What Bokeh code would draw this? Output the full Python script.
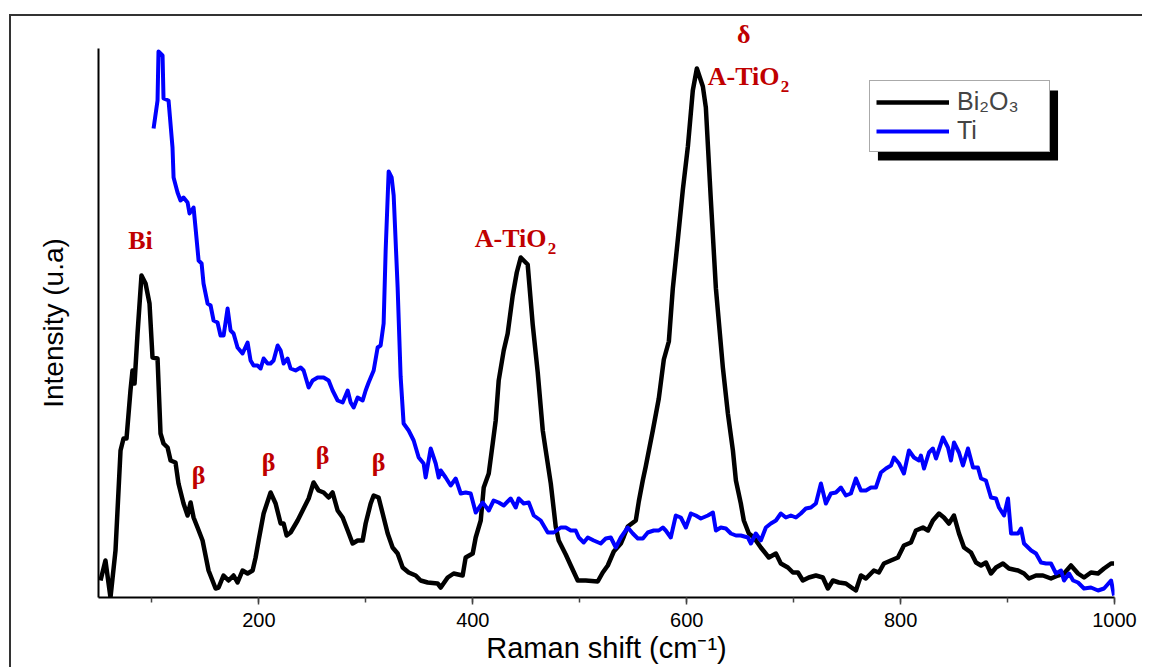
from bokeh.plotting import figure
from bokeh.models import (Legend, LegendItem, Label, BoxAnnotation, LinearAxis,
                          SingleIntervalTicker, FixedTicker, Range1d)
from bokeh.embed import file_html
from bokeh.resources import INLINE

# ---------------- data (Raman shift in cm^-1, intensity in a.u.) ----------------
bi2o3_x = [51.9, 56.5, 61.2, 65.9, 70.6, 73.4, 76.2, 79.9, 81.8, 83.7, 86.5, 90.2, 94.0, 97.7,
           100.5, 105.2, 108.0, 110.8, 114.6, 117.4, 122.0, 124.8, 129.5, 133.3, 136.1, 138.9,
           142.6, 147.3, 152.9, 159.5, 162.3, 166.9, 171.6, 176.3, 180.0, 184.7, 189.4, 194.1,
           196.9, 199.7, 204.4, 210.9, 215.6, 220.3, 223.1, 225.9, 229.6, 236.2, 241.8, 246.5,
           251.1, 255.8, 260.5, 265.2, 268.9, 273.6, 278.3, 283.0, 287.6, 292.3, 297.0, 299.8,
           304.5, 307.3, 311.9, 315.7, 320.4, 325.0, 329.7, 334.4, 340.0, 346.6, 351.2, 357.8,
           367.1, 370.0, 376.5, 382.1, 390.5, 393.3, 399.9, 402.7, 407.4, 410.2, 414.9, 418.6,
           421.4, 424.2, 428.9, 432.6, 437.3, 441.1, 444.8, 448.5, 451.3, 456.0, 460.7, 465.4,
           468.2, 472.9, 477.5, 480.3, 486.9, 491.6, 498.1, 505.6, 516.8, 521.5, 526.2, 531.8,
           538.4, 541.2, 544.9, 552.4, 555.2, 558.9, 561.7, 568.3, 573.9, 578.6, 583.3, 587.0,
           591.7, 596.4, 601.1, 605.7, 609.5, 615.1, 617.9, 622.6, 627.3, 633.8, 638.5, 643.2,
           646.0, 650.6, 653.4, 658.1, 662.8, 669.3, 676.8, 683.4, 688.0, 694.6, 699.3, 704.0,
           708.6, 714.2, 720.8, 727.3, 732.0, 736.7, 742.3, 748.8, 755.4, 758.2, 762.9, 767.6,
           775.0, 779.7, 784.4, 790.9, 797.5, 803.1, 809.7, 814.3, 820.9, 825.6, 830.2, 835.9,
           840.5, 845.2, 849.9, 854.6, 859.3, 865.8, 870.5, 875.2, 879.8, 884.5, 889.2, 895.7,
           901.3, 909.8, 915.4, 920.0, 926.6, 933.1, 940.6, 947.2, 952.8, 959.3, 965.9, 971.5,
           978.0, 984.6, 990.2, 996.8, 999.6]
bi2o3_y = [17, 37, 0, 47, 147, 159, 159, 207, 227, 214, 264, 322, 314, 294,
           240, 239, 164, 154, 150, 137, 135, 114, 94, 82, 95, 80,
           70, 57, 27, 9, 10, 22, 17, 22, 15, 27, 24, 27,
           40, 57, 84, 105, 94, 74, 74, 62, 65, 77, 89, 99,
           115, 107, 105, 100, 105, 87, 80, 67, 54, 57, 57, 74,
           94, 102, 100, 84, 64, 50, 44, 30, 25, 22, 17, 15,
           14, 10, 20, 24, 22, 40, 44, 60, 77, 110, 124, 154,
           177, 217, 247, 264, 302, 325, 340, 336, 333, 273, 225, 167,
           147, 114, 71, 57, 43, 32, 17, 17, 16, 25, 32, 46,
           54, 61, 71, 77, 96, 117, 131, 167, 199, 238, 256, 309,
           358, 408, 451, 507, 529, 511, 490, 397, 309, 230, 184, 147,
           117, 94, 77, 64, 60, 50, 40, 44, 34, 30, 25, 25,
           17, 20, 22, 20, 9, 17, 15, 14, 9, 7, 22, 19,
           27, 25, 34, 37, 40, 52, 55, 67, 70, 67, 77, 84,
           80, 74, 82, 64, 50, 45, 35, 32, 35, 24, 30, 34,
           29, 27, 24, 19, 22, 22, 19, 22, 24, 32, 24, 20,
           25, 24, 29, 34, 34]

ti_x = [101.5, 105.2, 106.1, 109.9, 110.8, 115.5, 119.2, 120.2, 123.9, 126.7, 129.5, 133.3,
        135.1, 138.9, 140.7, 143.6, 146.4, 148.2, 152.0, 154.8, 157.6, 161.3, 164.1, 167.0,
        170.7, 173.5, 176.3, 180.0, 184.7, 189.4, 192.2, 195.0, 198.7, 201.6, 204.4, 208.1,
        210.9, 213.7, 217.5, 220.3, 223.1, 226.8, 229.6, 234.3, 239.0, 241.8, 246.5, 250.2,
        254.9, 260.5, 265.2, 268.9, 273.6, 278.3, 283.0, 285.8, 288.6, 292.3, 297.0, 299.8,
        302.6, 307.3, 311.0, 313.8, 316.6, 318.5, 321.3, 324.1, 326.0, 329.7, 332.5, 335.3,
        340.0, 344.7, 349.4, 354.0, 355.9, 360.6, 365.3, 368.1, 370.0, 374.6, 379.3, 384.0,
        388.7, 393.3, 398.0, 402.7, 409.2, 414.9, 419.5, 424.2, 428.9, 435.4, 440.1, 442.9,
        447.6, 452.3, 457.0, 463.5, 470.1, 475.7, 482.2, 486.9, 491.6, 496.2, 499.1, 503.7,
        507.5, 513.1, 519.6, 524.3, 529.0, 533.7, 538.4, 544.9, 549.6, 554.3, 559.0, 563.6,
        569.2, 573.9, 577.7, 580.4, 585.1, 589.8, 594.5, 599.2, 603.9, 608.5, 613.2, 619.8,
        624.5, 627.3, 631.9, 636.6, 641.3, 646.0, 650.6, 657.2, 660.0, 664.6, 669.3, 674.0,
        678.7, 683.4, 688.0, 692.7, 697.4, 702.1, 706.7, 711.4, 716.1, 720.8, 725.5, 730.1,
        734.8, 739.5, 744.2, 748.8, 753.5, 758.2, 762.9, 767.6, 772.3, 776.9, 781.6, 786.3,
        791.0, 793.8, 798.5, 803.1, 807.8, 812.5, 817.2, 819.0, 821.9, 826.5, 830.2, 833.1,
        839.6, 844.3, 847.1, 849.9, 854.6, 858.3, 863.0, 867.7, 872.3, 875.2, 879.8, 884.5,
        889.2, 892.0, 896.7, 900.4, 903.3, 909.8, 912.6, 915.4, 922.1, 926.6, 931.3, 936.0,
        940.6, 945.3, 950.0, 952.8, 957.5, 961.3, 965.9, 971.5, 978.0, 984.6, 990.2, 996.8,
        999.6]
ti_y = [469, 497, 546, 542, 499, 497, 450, 420, 405, 397, 400, 395,
        384, 390, 370, 337, 334, 314, 294, 292, 277, 275, 262, 262,
        289, 267, 264, 250, 244, 255, 237, 232, 232, 229, 239, 234,
        234, 237, 252, 247, 234, 239, 229, 227, 230, 227, 210, 217,
        220, 220, 217, 207, 197, 195, 207, 195, 190, 200, 197, 207,
        215, 227, 250, 252, 274, 347, 426, 420, 402, 310, 221, 174,
        167, 157, 140, 134, 120, 149, 134, 120, 127, 120, 112, 119,
        104, 105, 104, 85, 95, 87, 97, 95, 92, 99, 90, 99,
        94, 95, 82, 77, 65, 65, 70, 70, 67, 67, 60, 55,
        60, 57, 54, 59, 60, 50, 60, 70, 64, 59, 59, 65,
        67, 67, 70, 67, 60, 82, 80, 70, 84, 82, 79, 82,
        85, 67, 70, 69, 64, 62, 62, 60, 54, 64, 57, 70,
        74, 77, 84, 80, 82, 80, 84, 89, 90, 94, 114, 94,
        104, 105, 110, 102, 104, 119, 107, 107, 110, 110, 125, 129,
        132, 140, 134, 124, 147, 140, 137, 142, 129, 145, 149, 139,
        160, 150, 137, 155, 145, 132, 149, 130, 130, 119, 117, 100,
        99, 90, 82, 99, 64, 64, 69, 54, 47, 44, 35, 34,
        34, 24, 27, 17, 24, 17, 15, 9, 10, 7, 9, 17,
        2]

series_names = ["Bi\u2082O\u2083", "Ti"]
x_ticks_interval = 200

# peak assignment labels (anchor in data coordinates)
beta_text = ["\u03b2", "\u03b2", "\u03b2", "\u03b2"]
beta_x = [143.6, 209.0, 259.6, 312.0]
beta_y = [122, 135, 142, 135]
delta_x = 653.4

RED = "#C00000"
SERIF = "Liberation Serif"
SANS = "Liberation Sans"

p = figure(frame_width=1016, frame_height=549,
           x_range=Range1d(50, 1000), y_range=Range1d(0, 549),
           output_backend="svg", toolbar_location=None,
           min_border_left=87, min_border_right=28, min_border_top=32, min_border_bottom=70)
p.margin = (14, 0, 0, 9)
p.styles = {"border-top": "2px solid #333", "border-left": "2px solid #333"}

p.outline_line_color = None
p.xgrid.visible = False
p.ygrid.visible = False
p.background_fill_color = "white"
p.border_fill_color = "white"

r_bi = p.line(bi2o3_x, bi2o3_y, line_color="black", line_width=4.5, line_join="round")
r_ti = p.line(ti_x, ti_y, line_color="#0000FF", line_width=4, line_join="round")

# x axis
xa = p.xaxis[0]
xa.ticker = SingleIntervalTicker(interval=x_ticks_interval, num_minor_ticks=2)
xa.axis_line_width = 2
xa.axis_line_color = "black"
xa.major_tick_in = 0
xa.major_tick_out = 7
xa.minor_tick_in = 0
xa.minor_tick_out = 5
xa.major_tick_line_width = 1.5
xa.minor_tick_line_width = 1.5
xa.major_tick_line_color = "#444"
xa.minor_tick_line_color = "#444"
xa.major_label_text_font = SANS
xa.major_label_text_font_size = "20px"
xa.major_label_text_color = "black"
xa.major_label_standoff = 8
xa.axis_label = "Raman shift (cm\u207b\u00b9)"
xa.axis_label_text_font = SANS
xa.axis_label_text_font_size = "29px"
xa.axis_label_text_font_style = "normal"
xa.axis_label_text_color = "black"
xa.axis_label_standoff = 2

# y axis
ya = p.yaxis[0]
ya.ticker = FixedTicker(ticks=[])
ya.axis_line_width = 2
ya.axis_line_color = "black"
ya.major_tick_line_color = None
ya.minor_tick_line_color = None
ya.axis_label = "Intensity (u.a)"
ya.axis_label_text_font = SANS
ya.axis_label_text_font_size = "28px"
ya.axis_label_text_font_style = "normal"
ya.axis_label_text_color = "black"
ya.axis_label_standoff = 30

# delta label above the plot area (outside the frame) via a bare top axis
top = LinearAxis(ticker=FixedTicker(ticks=[delta_x]),
                 major_label_overrides={delta_x: "\u03b4"},
                 axis_line_color=None, major_tick_line_color=None, minor_tick_line_color=None,
                 major_tick_in=0, major_tick_out=0, minor_tick_in=0, minor_tick_out=0,
                 major_label_text_color=RED, major_label_text_font=SERIF,
                 major_label_text_font_style="bold", major_label_text_font_size="26px",
                 major_label_standoff=0)
p.add_layout(top, "above")

# legend shadow + legend
shadow = BoxAnnotation(left=778.8, right=947.2, bottom=437, top=507,
                       fill_color="black", fill_alpha=1, line_color=None)
p.add_layout(shadow)
legend = Legend(items=[LegendItem(label=series_names[0], renderers=[r_bi]),
                       LegendItem(label=series_names[1], renderers=[r_ti])],
                location=(771, 445), margin=0, padding=6, spacing=0,
                glyph_width=73, glyph_height=28, label_height=28, label_standoff=8,
                label_width=86,
                label_text_font=SANS, label_text_font_size="25px",
                border_line_color="#555", border_line_width=1.5,
                background_fill_color="white", background_fill_alpha=1)
p.add_layout(legend)

# peak labels
def lab(x, y, text, size="26px", align="center", baseline="middle", x_offset=0):
    p.add_layout(Label(x=x, y=y, text=text, text_color=RED, text_font=SERIF,
                       text_font_style="bold", text_font_size=size,
                       text_align=align, text_baseline=baseline, x_offset=x_offset))

lab(89.3, 357, "Bi")
for t, bx, by in zip(beta_text, beta_x, beta_y):
    lab(bx, by, t)
lab(401.8, 359, "A-TiO", align="left", baseline="alphabetic")
lab(401.8, 349, "2", size="17px", align="left", baseline="alphabetic", x_offset=73)
lab(619.7, 521, "A-TiO", align="left", baseline="alphabetic")
lab(619.7, 511, "2", size="17px", align="left", baseline="alphabetic", x_offset=73)

open("out.html", "w").write(file_html(p, INLINE))
